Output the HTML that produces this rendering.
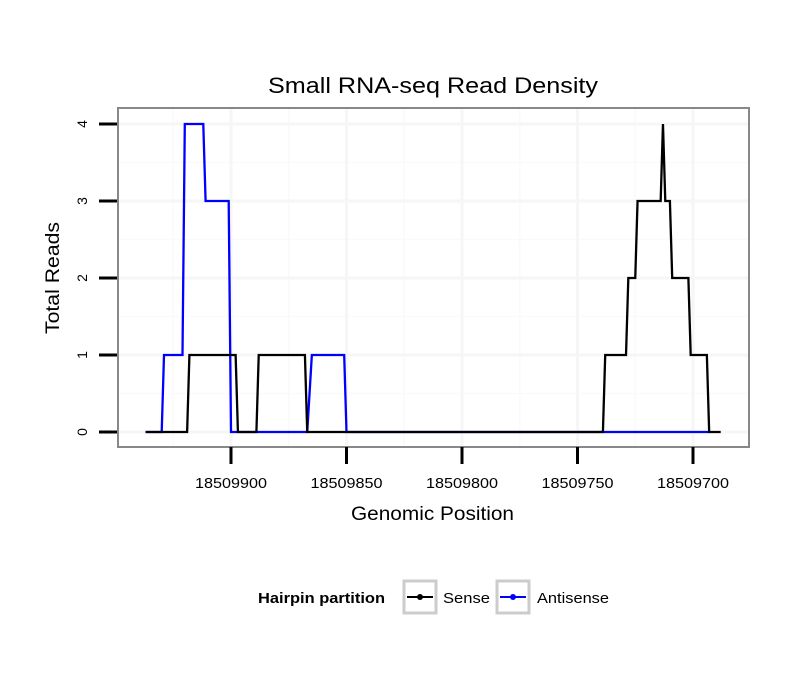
<!DOCTYPE html>
<html><head><meta charset="utf-8"><style>
body{margin:0;background:#fff}
svg{display:block;font-family:"Liberation Sans",sans-serif}
</style></head><body>
<svg id="chart" width="810" height="690">
<rect width="810" height="690" fill="#fff"/>
<text x="268" y="93" font-size="22" textLength="330" lengthAdjust="spacingAndGlyphs">Small RNA-seq Read Density</text>
<g id="grid"></g>
<g id="series"></g>
<rect x="118" y="108" width="631" height="339" fill="none" stroke="#888" stroke-width="2"/>
<g id="axes"></g>
<text x="351" y="520" font-size="19" textLength="163" lengthAdjust="spacingAndGlyphs">Genomic Position</text>
<text transform="translate(59,278) rotate(-90)" font-size="19" text-anchor="middle" textLength="112" lengthAdjust="spacingAndGlyphs">Total Reads</text>
<g>
<text x="258" y="603" font-size="15" font-weight="bold" textLength="127" lengthAdjust="spacingAndGlyphs">Hairpin partition</text>
<g>
<rect x="404" y="581" width="32" height="32" fill="#fff" stroke="#ccc" stroke-width="3"/>
<line x1="407" y1="597" x2="433" y2="597" stroke="#000" stroke-width="2"/>
<circle cx="420" cy="597" r="3" fill="#000"/>
<text x="443" y="603" font-size="15" textLength="47" lengthAdjust="spacingAndGlyphs">Sense</text></g>
<g>
<rect x="497" y="581" width="32" height="32" fill="#fff" stroke="#ccc" stroke-width="3"/>
<line x1="500" y1="597" x2="526" y2="597" stroke="#00f" stroke-width="2"/>
<circle cx="513" cy="597" r="3" fill="#00f"/>
<text x="537" y="603" font-size="15" textLength="72" lengthAdjust="spacingAndGlyphs">Antisense</text></g>
</g>
</svg>
<script>
const xTicks=[18509900,18509850,18509800,18509750,18509700];
const yTicks=[0,1,2,3,4];
const senseStart=[18509937,18509918,18509897,18509888,18509867,18509738,18509728,18509724,18509713,18509712,18509709,18509701,18509693];
const senseEnd  =[18509919,18509898,18509889,18509868,18509739,18509729,18509725,18509714,18509713,18509710,18509702,18509694,18509688];
const senseVal  =[0,1,0,1,0,1,2,3,4,3,2,1,0];
const antiStart=[18509937,18509929,18509920,18509911,18509900,18509865,18509850];
const antiEnd  =[18509930,18509921,18509912,18509901,18509867,18509851,18509693];
const antiVal  =[0,1,4,3,0,1,0];

const NS='http://www.w3.org/2000/svg';
function X(p){return 231+(18509900-p)*2.31;}
function Y(v){return 432-v*77;}
function mk(tag,attrs,parent){const e=document.createElementNS(NS,tag);for(const k in attrs)e.setAttribute(k,attrs[k]);parent.appendChild(e);return e;}
const grid=document.getElementById('grid'),axes=document.getElementById('axes'),series=document.getElementById('series');
for(let i=-1;i<xTicks.length;i++){
  const p=xTicks[0]-(i+0.5)*(xTicks[0]-xTicks[1]);const x=X(p);
  if(x>118&&x<749){const l=mk('line',{x1:x,x2:x,y1:108,y2:447,stroke:'#fafafa','stroke-width':1.5},grid);
  
  }
}
for(let v=-0.5;v<=4.5;v+=1){const y=Y(v);if(y>108&&y<447){const l=mk('line',{x1:118,x2:749,y1:y,y2:y,stroke:'#fafafa','stroke-width':1.5},grid);
  
  }}
xTicks.forEach(p=>{const x=X(p);
  const l=mk('line',{x1:x,x2:x,y1:108,y2:447,stroke:'#f6f6f6','stroke-width':3},grid);
  
  
  const t=mk('line',{x1:x,x2:x,y1:447,y2:464,stroke:'#000','stroke-width':3},axes);
  
  
  const tx=mk('text',{x:x,y:488,'font-size':14.5,'text-anchor':'middle',textLength:72,lengthAdjust:'spacingAndGlyphs'},axes);tx.textContent=p;
  
  
});
yTicks.forEach(v=>{const y=Y(v);
  const l=mk('line',{x1:118,x2:749,y1:y,y2:y,stroke:'#f6f6f6','stroke-width':3},grid);
  
  
  const t=mk('line',{x1:99,x2:117,y1:y,y2:y,stroke:'#000','stroke-width':3},axes);
  
  
  const tx=mk('text',{transform:`translate(87,${y}) rotate(-90)`,'font-size':14,'text-anchor':'middle'},axes);tx.textContent=v;
  
  
});
function draw(st,en,va,color,name){
  const pts=[];
  for(let i=0;i<st.length;i++){pts.push(X(st[i])+','+Y(va[i]));pts.push(X(en[i])+','+Y(va[i]));}
  const pl=mk('polyline',{points:pts.join(' '),fill:'none',stroke:color,'stroke-width':2.3,'stroke-linejoin':'miter'},series);
  
  
}
draw(antiStart,antiEnd,antiVal,'#00f','antisense-line');
draw(senseStart,senseEnd,senseVal,'#000','sense-line');
</script>
</body></html>
